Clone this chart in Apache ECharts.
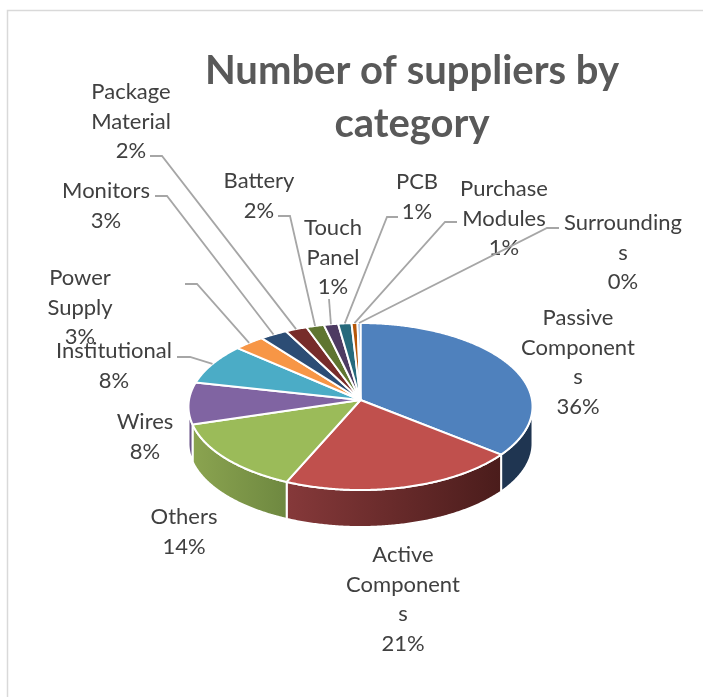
<!DOCTYPE html>
<html>
<head>
<meta charset="utf-8">
<style>html,body{margin:0;padding:0;background:#fff}#c{width:703px;height:697px}</style>
<script src="https://cdn.jsdelivr.net/npm/echarts@6/dist/echarts.min.js"></script>
</head>
<body>
<div id="c"></div>
<script>
const categories = ['Passive\nComponent\ns','Active\nComponent\ns','Others','Wires','Institutional','Power\nSupply','Monitors','Package\nMaterial','Battery','Touch\nPanel','PCB','Purchase\nModules','Surrounding\ns'];
const shares = [35.8,20.8,13.8,8.1,8.0,3.1,2.8,2.2,1.8,1.45,1.35,0.6,0.3];
const titleText = 'Number of suppliers by\ncategory';

const topColors = ['#4f81bd','#c0504d','#9bbb59','#8064a2','#4bacc6','#f79646','#2c4d75','#772c2a','#5f7530','#4d3b62','#276a7c','#b65708','#729aca'];
const wallColors = [['#1f3551','#1f3551'],['#86393a','#4a1c1b'],['#8ba450','#6e8840'],['#6a5387','#6a5387']];
/* layout: label centre x / first-line centre y, then leader start and elbow */
const labelPlaces = [[578,318],[403,555],[184,517],[145,422],[114,351],[80,278],[106,191],[131,92],[259,181],[333,228],[417,182],[504,189],[623,223]];
const leaderPaths = [null,null,null,null,[[177,357],[190,357]],[[185,284],[197,284]],[[155,196],[167,196]],[[150,156],[162,156]],[[278,216],[290,216]],[[329,299],[329,299]],[[398,217],[387,217]],[[457,222],[445,222]],[[559,228],[547,228]]];

/* perspective disc: apex of the slices, in-plane radii, foreshortening, wall depth */
const CX=360.5, APEX_Y=400, A=171.5, B=83, K=0.078, DEPTH=37;
const total = shares.reduce((a,b)=>a+b,0);
const starts=[]; let run=0;
shares.forEach(v=>{starts.push(run/total*360); run+=v;});
const rim=(deg,dy)=>{const t=deg*Math.PI/180,d=1+K*Math.cos(t);return [CX+A*Math.sin(t)/d,APEX_Y-B*Math.cos(t)/d+(dy||0)];};
const arc=(a,b,dy)=>{const p=[];const n=Math.max(2,Math.ceil((b-a)*2));for(let i=0;i<=n;i++)p.push(rim(a+(b-a)*i/n,dy));return p;};
const EDGE=Math.acos(-K)*180/Math.PI;

const chart = echarts.init(document.getElementById('c'),null,{renderer:'canvas'});
chart.setOption({
  animation:false,
  backgroundColor:'#ffffff',
  title:{text:titleText,left:407,top:40,textAlign:'center',
    textStyle:{fontFamily:'Lato',fontWeight:'bold',fontSize:40,lineHeight:53,color:'#595959'}},
  graphic:[{type:'rect',silent:true,shape:{x:7.5,y:10.5,width:900,height:900},style:{fill:'none',stroke:'#d9d9d9',lineWidth:1.5}}],
  series:[
    {type:'custom',coordinateSystem:'none',silent:true,z:2,data:shares.map((v,i)=>[v,i]),
     renderItem(params,api){
       const i=api.value(1),a=starts[i],b=a+api.value(0)/total*360,kids=[];
       const lo=Math.max(a,EDGE),hi=Math.min(b,360-EDGE);
       if(hi>lo){
         const top=arc(lo,hi,0),bot=arc(lo,hi,DEPTH).reverse();
         const w=wallColors[i]||[topColors[i],topColors[i]];
         kids.push({type:'polygon',shape:{points:top.concat(bot)},
           style:{stroke:'#fff',lineWidth:2,lineJoin:'round',
             fill:new echarts.graphic.LinearGradient(0,0,1,0,[{offset:0,color:w[0]},{offset:1,color:w[1]}])}});
       }
       kids.push({type:'polygon',shape:{points:[[CX,APEX_Y]].concat(arc(a,b,0))},
         style:{fill:topColors[i],stroke:'#fff',lineWidth:2,lineJoin:'round'}});
       return {type:'group',children:kids};
     }},
    {type:'custom',coordinateSystem:'none',silent:true,z:3,data:shares.map((v,i)=>[v,i]),
     renderItem(params,api){
       const v=api.value(0),i=api.value(1),kids=[];
       const mid=starts[i]+v/total*180;
       if(leaderPaths[i]){
         kids.push({type:'polyline',shape:{points:leaderPaths[i].concat([rim(mid,0)])},
           style:{fill:'none',stroke:'#a6a6a6',lineWidth:1.8}});
       }
       const p=labelPlaces[i];
       kids.push({type:'text',style:{text:categories[i]+'\n'+Math.round(v/total*100)+'%',x:p[0],y:p[1]-14.75,
         align:'center',verticalAlign:'top',lineHeight:29.5,
         fontFamily:'Lato',fontSize:22,fill:'#404040'}});
       return {type:'group',children:kids};
     }}
  ]
});
</script>
</body>
</html>
